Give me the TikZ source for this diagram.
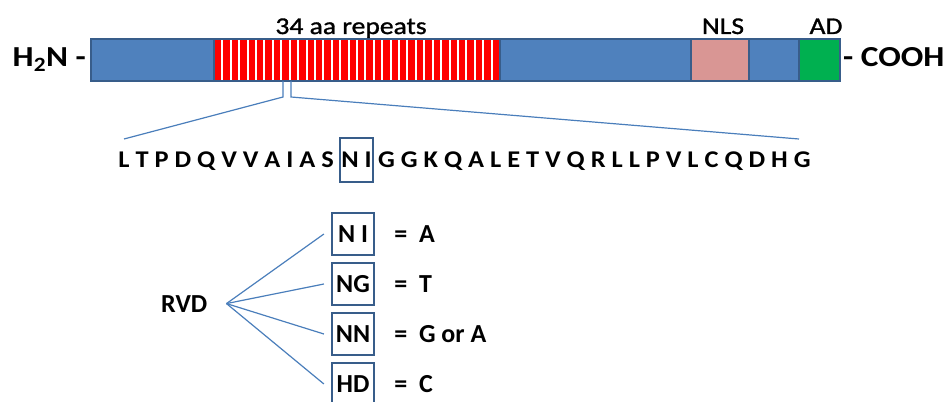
\documentclass[tikz,border=0pt]{standalone}
\usepackage{fontspec}
\setmainfont{Carlito}
\newfontfamily\widefont{Carlito}[FakeStretch=1.15]
\newfontfamily\labelfont{Carlito}[FakeStretch=1.15, FakeBold=1.2]
\newfontfamily\seqfont{Carlito}[FakeStretch=1.1]
\usetikzlibrary{positioning}

\definecolor{barblue}{HTML}{4F81BD}
\definecolor{barline}{HTML}{385D8A}
\definecolor{repeatred}{HTML}{FF0000}
\definecolor{nlspink}{HTML}{D99694}
\definecolor{adgreen}{HTML}{00B050}
\definecolor{linkblue}{HTML}{4A7EBB}

\begin{document}
\begin{tikzpicture}[
			x=1pt, y=-1pt,
			segment/.style={draw=barline, line width=1.8pt},
			link/.style={draw=linkblue, line width=1.2pt},
			termtext/.style={font=\widefont\fontsize{29}{29}\selectfont\bfseries, inner sep=0pt},
			labeltext/.style={font=\labelfont\fontsize{24}{24}\selectfont, inner sep=0pt},
			seqtext/.style={font=\seqfont\fontsize{24}{24}\selectfont\bfseries, inner sep=0pt},
			seqbox/.style={draw=barline, line width=1.8pt, minimum width=33pt,
				minimum height=44pt, inner sep=0pt, font=\seqfont\fontsize{24}{24}\selectfont\bfseries},
			rvdbox/.style={draw=barline, line width=2.2pt, minimum width=42pt,
				minimum height=42pt, inner sep=0pt, font=\fontsize{26}{26}\selectfont\bfseries},
			rvdtext/.style={font=\fontsize{26}{26}\selectfont\bfseries, inner sep=0pt}
			]
			\useasboundingbox (0,0) rectangle (949,401);
			
			% Protein bar
			\draw[segment, fill=barblue] (91,39) rectangle (214,81);
			\draw[segment, fill=repeatred] (214,39) rectangle (500,81);
			\foreach \i in {1,...,33}
				\draw[white, line width=2pt] ({214+\i*286/34},40) -- ({214+\i*286/34},80);
			\draw[segment] (214,39) rectangle (500,81);
			\draw[segment, fill=barblue] (500,39) rectangle (691,81);
			\draw[segment, fill=nlspink] (691,39) rectangle (749,81);
			\draw[segment, fill=barblue] (749,39) rectangle (799,81);
			\draw[segment, fill=adgreen] (799,39) rectangle (840,81);
			
			% Termini and domain labels
			\node[termtext, anchor=base east] (nterm) at (86,67) {H\textsubscript{2}N -};
			\node[termtext, anchor=base west] (cterm) at (843,67) {- COOH};
			\node[labeltext, anchor=base] (repeats) at (351,34) {34 aa repeats};
			\node[labeltext, anchor=base] (nls) at (723,34) {NLS};
			\node[labeltext, anchor=base] (ad) at (826,34) {AD};
			
			% One repeat, spelled out
			\node[seqbox] (nibox) at (356.5,160) {N I};
			\node[seqtext, anchor=base east] (seqleft) at ([xshift=-5pt]nibox.base west)
				{L T P D Q V V A I A S};
			\node[seqtext, anchor=base west] (seqright) at ([xshift=4pt]nibox.base east)
				{G G K Q A L E T V Q R L L P V L C Q D H G};
			
			\coordinate (cutleft) at (283,81);
			\coordinate (cutright) at (291,81);
			\coordinate (spanleft) at (124,139);
			\coordinate (spanright) at (799,139);
			\draw[link] (cutleft) -- ++(0,16) -- (spanleft);
			\draw[link] (cutright) -- ++(0,16) -- (spanright);
			
			% Repeat variable diresidues
			\node[rvdtext, anchor=base west] (rvd) at (161,312) {RVD};
			\coordinate (fork) at ([xshift=19pt]rvd.east);
			\foreach \pair/\base [count=\k] in {N I/A, NG/T, NN/G or A, HD/C}{
				\node[rvdbox] (box\k) at (353,184+50*\k) {\pair};
				\node[rvdtext, anchor=base west] (base\k) at ([xshift=19pt]box\k.base east)
					{=\ \ \base};
				\draw[link] (fork) -- ([xshift=-7pt]box\k.west);
			}
		\end{tikzpicture}
\end{document}
